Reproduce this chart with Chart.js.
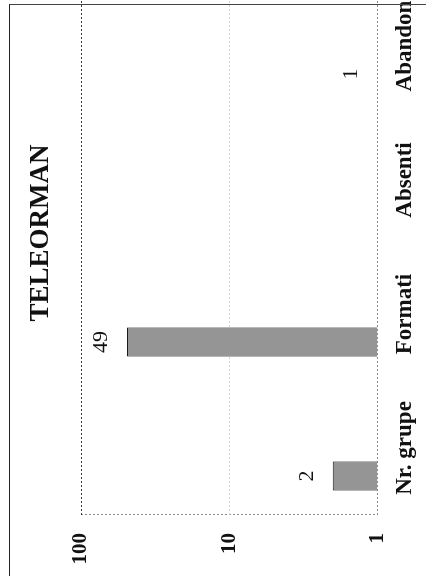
<!DOCTYPE html>
<html>
<head>
<meta charset="utf-8">
<script src="https://cdn.jsdelivr.net/npm/chart.js@4/dist/chart.umd.min.js"></script>
<style>
  html, body { margin: 0; padding: 0; background: #ffffff; width: 426px; height: 576px; overflow: hidden; position: relative; }
  /* The reference is a page turned on its side: the chart is drawn upright and rotated 90° counter-clockwise */
  #rot { position: absolute; left: 0; top: 0; width: 597px; height: 426px; transform-origin: 0 0; transform: translate(0px, 576px) rotate(-90deg); }
  #frame { position: absolute; left: 9px; top: 4px; width: 600px; height: 700px; border-left: 1px solid #222; border-top: 1px solid #444; pointer-events: none; }
</style>
</head>
<body>
<div id="rot"><canvas id="c" width="597" height="426"></canvas></div>
<div id="frame"></div>
<script>
// ---- data ----
const chartTitle = 'TELEORMAN';
const categories = ['Nr. grupe', 'Formati', 'Absenti', 'Abandon'];
const values = [2, 49, null, 1];
const emptySeries = [null, null, null, null];   // second (empty) Excel series that shifts the bars left of centre
const valueTicks = [1, 10, 100];

const serif = '"Liberation Serif", "Times New Roman", serif';

const titlePlugin = {
  id: 'overTitle',
  afterDraw(chart) {
    const { ctx, chartArea } = chart;
    ctx.save();
    ctx.font = 'bold 27px ' + serif;
    ctx.fillStyle = '#111';
    ctx.textAlign = 'center';
    ctx.textBaseline = 'middle';
    ctx.fillText(chartTitle, chartArea.left + 282, 41);
    ctx.restore();
  }
};

const valueLabelPlugin = {
  id: 'valueLabels',
  afterDatasetsDraw(chart) {
    const { ctx } = chart;
    const meta = chart.getDatasetMeta(0);
    ctx.save();
    ctx.font = '22px ' + serif;
    ctx.fillStyle = '#111';
    ctx.textAlign = 'center';
    ctx.textBaseline = 'middle';
    meta.data.forEach((el, i) => {
      const v = values[i];
      if (v === null || v === undefined) return;
      ctx.fillText(String(v), el.x, el.y - 26);
    });
    ctx.restore();
  }
};

new Chart(document.getElementById('c'), {
  type: 'bar',
  data: {
    labels: categories,
    datasets: [
      {
        label: chartTitle,
        data: values,
        backgroundColor: '#959595',
        borderColor: '#1a1a1a',
        borderWidth: c => (values[c.dataIndex] > 1 ? 1 : 0),
        categoryPercentage: 0.836,
        barPercentage: 0.52
      },
      {
        label: '',
        data: emptySeries,
        backgroundColor: '#959595',
        categoryPercentage: 0.836,
        barPercentage: 0.52
      }
    ]
  },
  options: {
    responsive: false,
    devicePixelRatio: 1,
    animation: false,
    layout: { padding: { top: 81, right: 0, bottom: 0, left: 0 } },
    plugins: { legend: { display: false }, title: { display: false }, tooltip: { enabled: false } },
    scales: {
      x: {
        type: 'category',
        offset: true,
        grid: {
          offset: true,
          drawTicks: false,
          lineWidth: 1,
          color: c => (c.index === 0 ? '#8a8a8a' : 'rgba(0,0,0,0)')
        },
        border: { display: false, dash: [2, 2] },
        ticks: {
          color: '#111',
          font: { family: serif, size: 23, weight: 'bold' },
          padding: 14,
          maxRotation: 0,
          autoSkip: false
        },
        afterFit(s) { s.height = 48.5; }
      },
      y: {
        type: 'logarithmic',
        min: 1,
        max: 100,
        afterBuildTicks(s) { s.ticks = valueTicks.map(v => ({ value: v })); },
        grid: {
          drawTicks: false,
          lineWidth: 1,
          color: c => {
            const v = c.tick ? c.tick.value : 0;
            if (v === 100) return '#3a3a3a';
            if (v === 10) return '#d4d4d4';
            return '#8a8a8a';
          }
        },
        border: { display: false, dash: [2, 2] },
        ticks: {
          color: '#111',
          font: { family: serif, size: 21, weight: 'bold' },
          padding: 18,
          callback: v => String(v)
        },
        afterFit(s) { s.width = 61; }
      }
    }
  },
  plugins: [titlePlugin, valueLabelPlugin]
});
</script>
</body>
</html>
